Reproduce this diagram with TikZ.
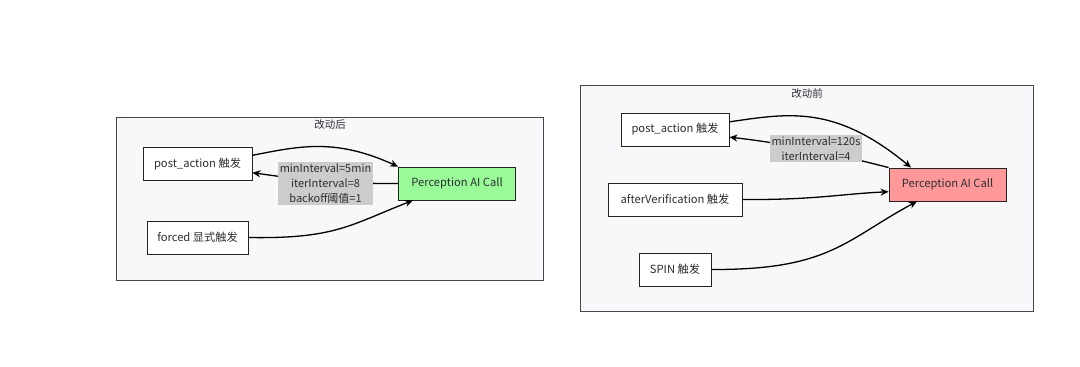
\documentclass[tikz,border=0pt]{standalone}
\usepackage{fontspec}
\setmainfont{Noto Sans CJK SC}
\usepackage{xcolor}
\usetikzlibrary{arrows.meta}

\begin{document}
\begin{tikzpicture}[x=1pt,y=-1pt,
    trig/.style={draw=cedge,fill=white,line width=0.9pt,minimum height=33pt,inner sep=2pt,font=\fontsize{11.2}{13}\selectfont,text=ctext},
    call/.style={trig,minimum width=117pt},
    lbl/.style={fill=clabel,align=center,inner sep=1.5pt,font=\fontsize{11}{15}\selectfont,text=ctext},
    grp/.style={draw=cgrp,fill=cgrpbg,line width=0.9pt},
    arr/.style={-{Stealth[length=8pt,width=7pt]},line width=1.3pt,draw=black}]
  \definecolor{cedge}{RGB}{35,35,35}
  \definecolor{ctext}{RGB}{45,45,50}
  \definecolor{cgrp}{RGB}{70,70,80}
  \definecolor{cgrpbg}{RGB}{248,248,251}
  \definecolor{clabel}{RGB}{204,204,204}
  \definecolor{cnew}{RGB}{152,251,152}
  \definecolor{cold}{RGB}{255,153,153}
  \useasboundingbox (0,0) rectangle (1080,367);
  % 改动后
  \draw[grp] (116,117) rectangle (543,280);
  \node[font=\fontsize{10.5}{12}\selectfont,text=ctext] (t1) at (330,125) {改动后};
  \node[trig,minimum width=109pt] (pa1) at (197.5,164) {post\_action 触发};
  \node[trig,minimum width=101pt] (fo1) at (197.5,237.5) {forced 显式触发};
  \node[call,fill=cnew] (pc1) at (457,183.5) {Perception AI Call};
  \draw[arr] (pa1.9) .. controls (300,146) and (335,138) .. (pc1.north west);
  \draw[arr] (pc1.west) .. controls (330,184) and (290,178) .. (pa1.-9);
  \draw[arr] (fo1.east) .. controls (335,239) and (350,225) .. (pc1.201);
  \node[lbl] (l1) at (325.5,183.5) {minInterval=5min\\iterInterval=8\\backoff阈值=1};
  % 改动前
  \draw[grp] (580,85) rectangle (1033,311);
  \node[font=\fontsize{10.5}{12}\selectfont,text=ctext] (t2) at (807,94) {改动前};
  \node[trig,minimum width=108pt] (pa2) at (675,129.5) {post\_action 触发};
  \node[trig,minimum width=134pt] (av2) at (675,199.5) {afterVerification 触发};
  \node[trig,minimum width=72pt] (sp2) at (675,269.5) {SPIN 触发};
  \node[call,fill=cold] (pc2) at (947.5,184.5) {Perception AI Call};
  \draw[arr] (pa2.8) .. controls (790,113) and (835,105) .. (pc2.155);
  \draw[arr] (pc2.north west) .. controls (840,155) and (790,144) .. (pa2.-8);
  \draw[arr] (av2.east) .. controls (815,200) and (840,194) .. (pc2.187);
  \draw[arr] (sp2.east) .. controls (830,270) and (845,240) .. (pc2.209);
  \node[lbl] (l2) at (816,148.5) {minInterval=120s\\iterInterval=4};
\end{tikzpicture}
\end{document}
